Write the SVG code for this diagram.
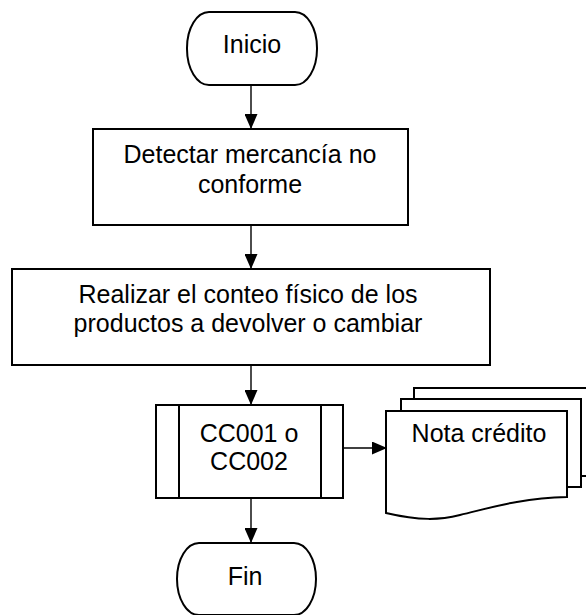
<svg xmlns="http://www.w3.org/2000/svg" width="586" height="615" viewBox="0 0 586 615">
<style>
.s{fill:#fff;stroke:#000;stroke-width:2}
.t{font-family:"Liberation Sans",Arial,sans-serif;font-size:25px;fill:#000;text-anchor:middle}
.c{stroke:#000;stroke-width:1.4;fill:none}
</style>
<defs>
<marker id="a" markerUnits="userSpaceOnUse" markerWidth="15" markerHeight="13" refX="15" refY="6.5" orient="auto">
<path d="M0,0 L15,6.5 L0,13 Z" fill="#000"/>
</marker>
</defs>
<rect width="586" height="615" fill="#fff"/>
<g id="connectors">
<line class="c" x1="251" y1="85" x2="251" y2="129" marker-end="url(#a)"/>
<line class="c" x1="251" y1="225" x2="251" y2="269" marker-end="url(#a)"/>
<line class="c" x1="251" y1="365" x2="251" y2="405" marker-end="url(#a)"/>
<line class="c" x1="343" y1="448" x2="387" y2="448" marker-end="url(#a)"/>
<line class="c" x1="251" y1="498" x2="251" y2="543" marker-end="url(#a)"/>
</g>
<g id="inicio">
<rect class="s" x="187" y="12" width="130" height="73" rx="22" ry="36"/>
<text class="t" x="252" y="53">Inicio</text>
</g>
<g id="detectar">
<rect class="s" x="93" y="129" width="315" height="96"/>
<text class="t" x="250" y="163">Detectar mercancía no</text>
<text class="t" x="250" y="193">conforme</text>
</g>
<g id="realizar">
<rect class="s" x="12" y="269" width="478" height="96"/>
<text class="t" x="248" y="303">Realizar el conteo físico de los</text>
<text class="t" x="248" y="332">productos a devolver o cambiar</text>
</g>
<g id="cc">
<rect class="s" x="156" y="405" width="187" height="93"/>
<line class="c" x1="179" y1="405" x2="179" y2="498" style="stroke-width:2"/>
<line class="c" x1="321" y1="405" x2="321" y2="498" style="stroke-width:2"/>
<text class="t" x="249" y="442">CC001 o</text>
<text class="t" x="249" y="470">CC002</text>
</g>
<g id="nota">
<rect class="s" x="414" y="388" width="190" height="88"/>
<rect class="s" x="401" y="399" width="180" height="88"/>
<path class="s" d="M386,411 H567 V497 C520,498 490,508 460,515 C440,520 420,521 386,513 Z"/>
<text class="t" x="479" y="442">Nota crédito</text>
</g>
<g id="fin">
<rect class="s" x="177" y="543" width="139" height="72" rx="22" ry="36"/>
<text class="t" x="245" y="585">Fin</text>
</g>
</svg>
